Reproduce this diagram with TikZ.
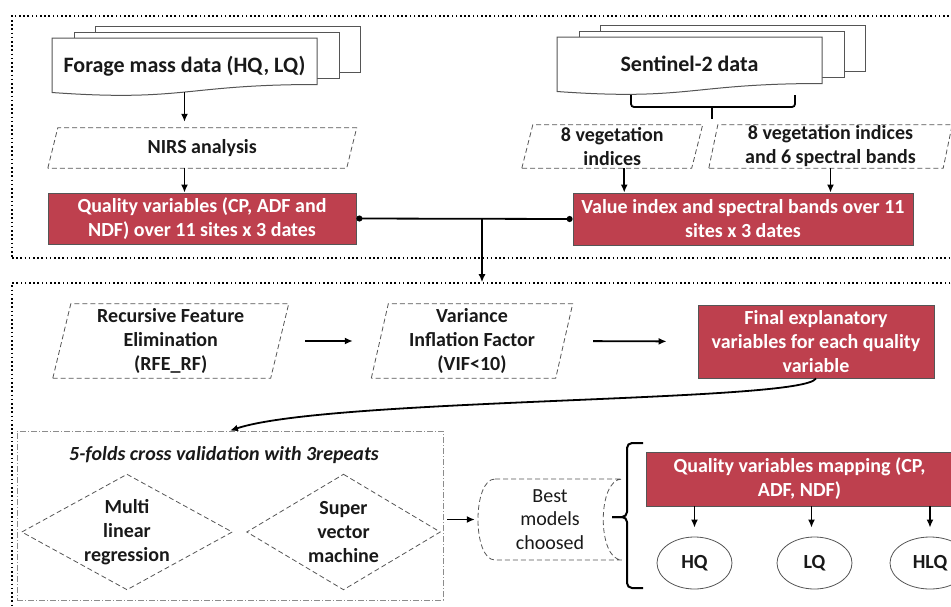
\documentclass[tikz,border=0pt]{standalone}
\usepackage{fontspec}
\setmainfont{Carlito}
\usetikzlibrary{arrows.meta,calc,shapes.geometric}
\definecolor{qred}{RGB}{190,64,78}
\definecolor{lgray}{RGB}{85,85,85}
\definecolor{mgray}{RGB}{140,140,140}
\definecolor{txt}{RGB}{25,25,25}
\tikzset{
 every node/.style={font=\bfseries\fontsize{20}{24}\selectfont, align=center, inner sep=0pt, text=txt},
 redbox/.style={rectangle, fill=qred, draw=lgray, line width=0.8pt, text=white},
 ghost/.style={rectangle, draw=none},
 arr/.style={line width=1.8pt, -{Latex[length=8pt,width=7pt]}},
 dotbox/.style={rectangle, draw=black, line width=1.6pt, dash pattern=on 1.6pt off 2.6pt},
 dashline/.style={draw=lgray, line width=0.8pt, dash pattern=on 5pt off 3pt},
 docline/.style={draw=lgray, line width=1pt, fill=white},
 cvline/.style={draw=mgray, line width=0.8pt, dash pattern=on 6pt off 2pt on 1pt off 2pt},
 oval/.style={ellipse, draw=lgray, line width=0.8pt, fill=white},
}
\newcommand{\parapath}[2]{%
 \draw[dashline] ([xshift=-#2pt]#1.south west) -- ([xshift=#2pt]#1.north west) -- ([xshift=#2pt]#1.north east) -- ([xshift=-#2pt]#1.south east) -- cycle;}
\newcommand{\docstack}[3]{%
 \draw[docline] (#1+43,#2-12) rectangle (#1+43+#3,#2+34);
 \draw[docline] (#1+22,#2-6) rectangle (#1+22+#3,#2+40);
 \draw[docline] (#1,#2) -- (#1+#3,#2) -- (#1+#3,#2+46.5) .. controls (#1+0.5*#3,#2+46.5) and (#1+0.5*#3,#2+64) .. (#1,#2+54.5) -- cycle;}
\begin{document}
\begin{tikzpicture}[x=1pt,y=-1pt]
\useasboundingbox (0,0) rectangle (951,606);
\clip (0,0) rectangle (951,606);
% outer dotted boxes
\node[dotbox, minimum width=948pt, minimum height=242pt] (box1) at (486,137) {};
\node[dotbox, minimum width=948pt, minimum height=357pt] (box2) at (486,461.5) {};
% document stacks
\docstack{52}{38}{265}
\docstack{557}{37}{265}
\node[ghost, minimum width=265pt, minimum height=52pt, font=\bfseries\fontsize{22}{26}\selectfont] (forage) at (184.5,66) {Forage mass data (HQ, LQ)};
\node[ghost, minimum width=265pt, minimum height=54pt, font=\bfseries\fontsize{22}{26}\selectfont] (sent) at (689.5,64) {Sentinel-2 data};
% bracket under Sentinel
\draw[line width=1.8pt, rounded corners=3pt] (631,95) -- (631,107) -- (795,107) -- (795,95);
\draw[line width=1.8pt] (712,107) -- (712,119);
% parallelograms
\node[ghost, minimum width=298.5pt, minimum height=40pt] (nirs) at (202.25,148) {NIRS analysis};
\parapath{nirs}{5}
\node[ghost, minimum width=169.5pt, minimum height=43pt] (veg8) at (612.25,146.5) {8 vegetation\\indices};
\parapath{veg8}{5.5}
\node[ghost, minimum width=234pt, minimum height=43pt] (veg8b) at (830.5,146.5) {8 vegetation indices\\and 6 spectral bands};
\parapath{veg8b}{4.5}
% red boxes top
\node[redbox, minimum width=308pt, minimum height=51pt] (qv) at (202,218.5) {Quality variables (CP, ADF and\\NDF) over 11 sites x 3 dates};
\node[redbox, minimum width=340pt, minimum height=52pt] (vi) at (743,219) {Value index and spectral bands over 11\\sites x 3 dates};
% top connectors
\draw[arr, shorten >=6pt] (forage.south) -- (forage.south |- nirs.north);
\draw[arr] (forage.south |- nirs.south) -- (forage.south |- qv.north);
\draw[arr] ([xshift=12pt]veg8.south) -- ([xshift=12pt]veg8.south |- vi.north);
\draw[arr] (veg8b.south) -- (veg8b.south |- vi.north);
\draw[line width=1.8pt, {Circle[length=6pt]}-{Circle[length=6pt]}] (qv.east) -- (vi.west);
\coordinate (jn) at (482,219);
\draw[arr] (jn) -- (jn |- box2.north);
% bottom section
\node[ghost, minimum width=217.5pt, minimum height=74pt] (rfe) at (170.75,341) {Recursive Feature\\Elimination\\(RFE\_RF)};
\parapath{rfe}{9}
\node[ghost, minimum width=184pt, minimum height=74pt] (vif) at (472,341) {Variance\\Inflation Factor\\(VIF<10)};
\parapath{vif}{8.5}
\node[redbox, minimum width=236pt, minimum height=73pt] (final) at (816,341.5) {Final explanatory\\variables for each quality\\variable};
\draw[arr, shorten <=25.5pt, shorten >=27pt] (rfe.east) -- (vif.west);
\draw[arr, shorten <=29pt, shorten >=31pt] (vif.east) -- (final.west);
% cross validation box
\node[rectangle, cvline, minimum width=426pt, minimum height=169pt] (cv) at (230,515.5) {};
\draw[arr] (final.south) .. controls +(-12,24) and +(100,-33) .. (cv.north);
\node[font=\bfseries\itshape\fontsize{20}{24}\selectfont] (cvt) at (224,455) {5-folds cross validation with 3repeats};
\node[ghost, minimum width=210pt, minimum height=115pt] (d1) at (127,532) {Multi\\linear\\regression};
\draw[dashline] (d1.north) -- (d1.east) -- (d1.south) -- (d1.west) -- cycle;
\node[ghost, minimum width=193pt, minimum height=115pt] (d2) at (343.5,532) {Super\\vector\\machine};
\draw[dashline] (d2.north) -- (d2.east) -- (d2.south) -- (d2.west) -- cycle;
% best models
\node[ghost, minimum width=144pt, minimum height=81pt, font=\fontsize{20}{23.5}\selectfont] (best) at (550,519.5) {Best\\models\\choosed};
\draw[dashline] (495,479) -- (622,479) .. controls (597,479) and (597,560) .. (622,560) -- (495,560) .. controls (472.3,560) and (472.3,479) .. (495,479) -- cycle;
\draw[arr, shorten <=4pt, shorten >=3pt] (cv.east |- best.west) -- (best.west);
% brace
\draw[line width=2pt, rounded corners=5pt] (643,443) -- (627,443) -- (627,517) -- (612,517);
\draw[line width=2pt, rounded corners=5pt] (612,517) -- (627,517) -- (627,588) -- (643,588);
% mapping
\node[redbox, minimum width=307pt, minimum height=54pt] (qvm) at (799.5,479) {Quality variables mapping (CP,\\ADF, NDF)};
\node[oval, minimum width=75pt, minimum height=52pt] (hq) at (694.5,563) {HQ};
\node[oval, minimum width=75pt, minimum height=52pt] (lq) at (814.5,563) {LQ};
\node[oval, minimum width=80pt, minimum height=52pt] (hlq) at (930,563) {HLQ};
\draw[arr, shorten >=9pt] (hq.north |- qvm.south) -- (hq.north);
\draw[arr, shorten >=9pt] ([xshift=-3pt]lq.north |- qvm.south) -- ([xshift=-3pt]lq.north);
\draw[arr, shorten >=9pt] (hlq.north |- qvm.south) -- (hlq.north);
\end{tikzpicture}
\end{document}
